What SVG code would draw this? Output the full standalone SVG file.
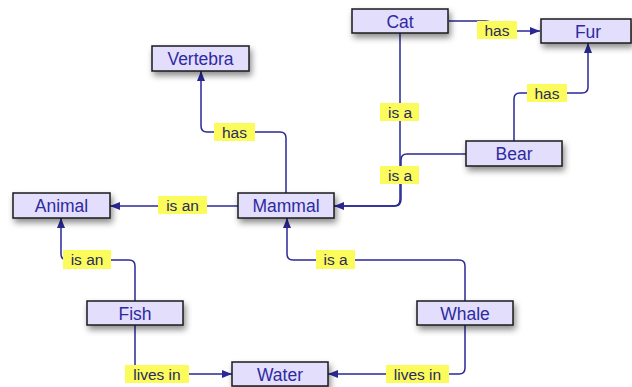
<svg xmlns="http://www.w3.org/2000/svg" width="632" height="387" viewBox="0 0 632 387">
<defs>
<filter id="sh" x="-20%" y="-40%" width="140%" height="200%">
<feDropShadow dx="2" dy="4" stdDeviation="3" flood-color="#000" flood-opacity="0.45"/>
</filter>
<marker id="ah" viewBox="0 0 10 8" refX="10" refY="4" markerWidth="10" markerHeight="8" markerUnits="userSpaceOnUse" orient="auto">
<path d="M0,0 L10,4 L0,8 Z" fill="#2a2896"/>
</marker>
</defs>
<style>
.node rect{fill:#e2defc;stroke:#1a1a1a;stroke-width:1.5;filter:url(#sh)}
.node text{font-family:"Liberation Sans",Arial,sans-serif;font-size:17.5px;fill:#2e2aa0;text-anchor:middle}
.edges path{fill:none;stroke:#2a2896;stroke-width:1.5}
.lbl rect{fill:#fbfb5c;stroke:none}
.lbl text{font-family:"Liberation Sans",Arial,sans-serif;font-size:15.5px;fill:#2a2a5e;text-anchor:middle}
</style>
<rect width="632" height="387" fill="#fff"/>
<g class="edges">
<path d="M449,21 H486 Q492,21 492,27 V31 H540" marker-end="url(#ah)"/>
<path d="M514,141 V99 Q514,93 520,93 H582 Q588,93 588,87 V43" marker-end="url(#ah)"/>
<path d="M400,33 V199 Q400,206 394,206 H334" marker-end="url(#ah)"/>
<path d="M466,154 H407 Q401,154 401,160 V199 Q401,206 395,206 H334"/>
<path d="M286,193 V138 Q286,132 280,132 H207 Q201,132 201,126 V71" marker-end="url(#ah)"/>
<path d="M238,206 H110" marker-end="url(#ah)"/>
<path d="M135,301 V266 Q135,260 129,260 H67 Q61,260 61,254 V218" marker-end="url(#ah)"/>
<path d="M465,301 V266 Q465,260 459,260 H293 Q287,260 287,254 V218" marker-end="url(#ah)"/>
<path d="M135,325 V374 H232" marker-end="url(#ah)"/>
<path d="M465,325 V368 Q465,374 459,374 H328" marker-end="url(#ah)"/>
</g>
<g class="lbl">
<g id="l-cat-fur"><rect x="477" y="21" width="40" height="18"/><text x="497" y="35.5">has</text></g>
<g id="l-bear-fur"><rect x="527" y="84" width="40" height="18"/><text x="547" y="98.5">has</text></g>
<g id="l-cat-mammal"><rect x="380" y="103" width="39" height="18"/><text x="400" y="117.5">is a</text></g>
<g id="l-bear-mammal"><rect x="380" y="166" width="39" height="18"/><text x="400" y="180.5">is a</text></g>
<g id="l-mammal-vert"><rect x="214" y="123" width="41" height="18"/><text x="234.5" y="137.5">has</text></g>
<g id="l-mammal-animal"><rect x="158" y="196" width="49" height="18"/><text x="182.5" y="210.5">is an</text></g>
<g id="l-fish-animal"><rect x="63" y="250" width="48" height="19"/><text x="87" y="265">is an</text></g>
<g id="l-whale-mammal"><rect x="316" y="250" width="39" height="19"/><text x="335.5" y="265">is a</text></g>
<g id="l-fish-water"><rect x="125" y="365" width="64" height="18"/><text x="157" y="379.5">lives in</text></g>
<g id="l-whale-water"><rect x="386" y="365" width="63" height="18"/><text x="417.5" y="379.5">lives in</text></g>
</g>
<g id="cat" class="node"><rect x="352" y="9" width="96" height="24"/><text x="400" y="27.5">Cat</text></g>
<g id="fur" class="node"><rect x="541" y="19" width="90" height="24"/><text x="588" y="37.5">Fur</text></g>
<g id="vertebra" class="node"><rect x="152" y="46" width="97" height="25"/><text x="200.5" y="64.5">Vertebra</text></g>
<g id="animal" class="node"><rect x="13" y="193" width="97" height="25"/><text x="61.5" y="211.5">Animal</text></g>
<g id="mammal" class="node"><rect x="238" y="193" width="96" height="25"/><text x="286" y="211.5">Mammal</text></g>
<g id="bear" class="node"><rect x="466" y="141" width="96" height="25"/><text x="514" y="159.5">Bear</text></g>
<g id="fish" class="node"><rect x="87" y="301" width="96" height="24"/><text x="135" y="319.5">Fish</text></g>
<g id="whale" class="node"><rect x="417" y="301" width="96" height="24"/><text x="465" y="319.5">Whale</text></g>
<g id="water" class="node"><rect x="232" y="362" width="96" height="24"/><text x="280" y="380.5">Water</text></g>
</svg>
